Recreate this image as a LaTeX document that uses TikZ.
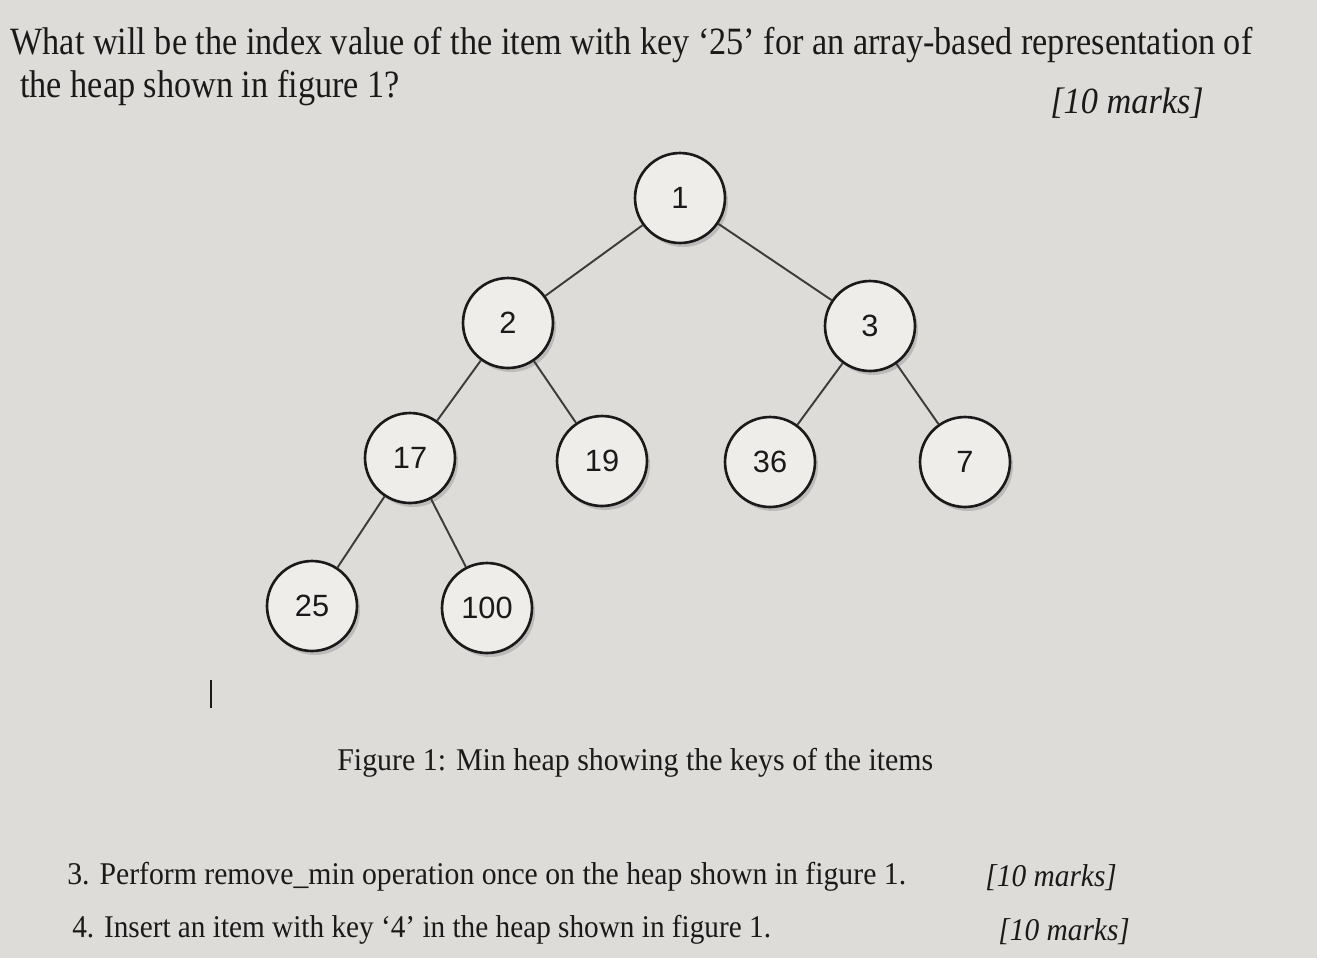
\documentclass[tikz,border=0pt]{standalone}
\usepackage{fontspec}
\setmainfont{Liberation Serif}
\newfontfamily\keyfont{Liberation Sans}
\usetikzlibrary{shadows}
\definecolor{bg}{HTML}{DDDCD8}
\definecolor{nodefill}{HTML}{EEEDEA}
\definecolor{ink}{HTML}{1A1A1A}
\definecolor{edge}{HTML}{3C3C3C}
\tikzset{
  heapnode/.style={circle, draw=ink, line width=1.5pt, fill=nodefill, minimum size=1.8cm, inner sep=0pt,
    font=\keyfont\fontsize{17.5}{17.5}\selectfont, text=ink,
    drop shadow={shadow xshift=0.06cm, shadow yshift=-0.08cm, opacity=0.35}},
  heapedge/.style={draw=edge, line width=1.1pt},
  txt/.style={inner sep=0pt, text=ink, anchor=west},
}
\begin{document}
\begin{tikzpicture}[x=0.02cm,y=-0.02cm]
\fill[bg] (0,0) rectangle (1317,958);
\useasboundingbox (0,0) rectangle (1317,958);
% question text
\node[txt] (q1) at (10,45) {\fontsize{22}{22}\selectfont\scalebox{0.886}[1]{What will be the index value of the item with key ‘25’ for an array-based representation of}};
\node[txt] (q2) at (20,88) {\fontsize{22}{22}\selectfont\scalebox{0.886}[1]{the heap shown in figure 1?}};
\node[txt] (m0) at (1050,103) {\fontsize{21}{21}\selectfont\scalebox{0.93}[1]{\itshape [10 marks]}};
% nodes
\node[heapnode] (n1) at (680,198) {1};
\node[heapnode] (n2) at (508,323) {2};
\node[heapnode] (n3) at (870,326) {3};
\node[heapnode] (n17) at (410,458) {17};
\node[heapnode] (n19) at (602,461) {19};
\node[heapnode] (n36) at (770,462) {36};
\node[heapnode] (n7) at (965,462) {7};
\node[heapnode] (n25) at (312,606) {25};
\node[heapnode] (n100) at (487,608) {100};
% edges
\draw[heapedge] (n1) -- (n2);
\draw[heapedge] (n1) -- (n3);
\draw[heapedge] (n2) -- (n17);
\draw[heapedge] (n2) -- (n19);
\draw[heapedge] (n3) -- (n36);
\draw[heapedge] (n3) -- (n7);
\draw[heapedge] (n17) -- (n25);
\draw[heapedge] (n17) -- (n100);
% cursor mark
\coordinate (c1) at (211,680);
\coordinate (c2) at (211,708);
\draw[ink, line width=0.8pt] (c1) -- (c2);
% caption
\node[txt] (cap) at (337,763) {\fontsize{18}{18}\selectfont\scalebox{0.945}[1]{Figure 1: Min heap showing the keys of the items}};
% questions
\node[txt] (q3) at (67,877) {\fontsize{18}{18}\selectfont\scalebox{0.94}[1]{3. Perform remove\_min operation once on the heap shown in figure 1.}};
\node[txt] (m3) at (985,878) {\fontsize{18}{18}\selectfont\scalebox{0.93}[1]{\itshape [10 marks]}};
\node[txt] (q4) at (72,930) {\fontsize{18}{18}\selectfont\scalebox{0.925}[1]{4. Insert an item with key ‘4’ in the heap shown in figure 1.}};
\node[txt] (m4) at (998,932) {\fontsize{18}{18}\selectfont\scalebox{0.93}[1]{\itshape [10 marks]}};
\end{tikzpicture}
\end{document}
